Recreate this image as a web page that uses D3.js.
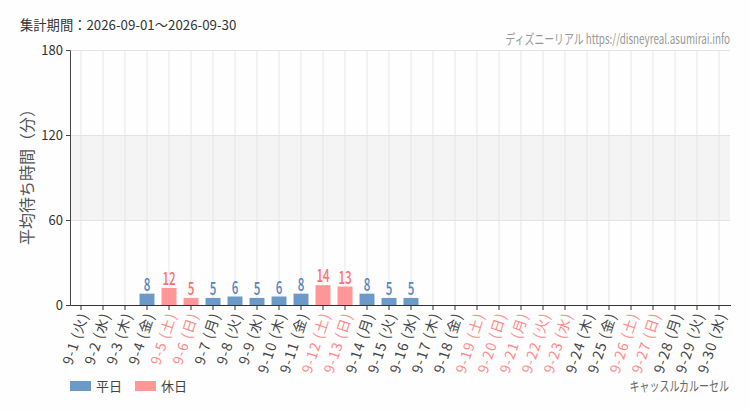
<!DOCTYPE html>
<html><head><meta charset="utf-8">
<script src="https://cdn.jsdelivr.net/npm/d3@7"></script>
<style>body{margin:0;background:#fdfefd;}svg{display:block;}</style>
</head><body><svg id="c" width="750" height="410"></svg>
<script>
const days = d3.range(1, 31).map(d => "9-" + d);
const weekdays = ["火","水","木","金","土","日","月","火","水","木","金","土","日","月","火","水","木","金","土","日","月","火","水","木","金","土","日","月","火","水"];
const holidays = [5,6,12,13,19,20,21,22,23,26,27];
const waits = [null,null,null,8,12,5,5,6,5,6,8,14,13,8,5,5,null,null,null,null,null,null,null,null,null,null,null,null,null,null];
const yTicks = [0,60,120,180];
const title = "集計期間：2026-09-01～2026-09-30";
const site = "ディズニーリアル https://disneyreal.asumirai.info";
const attraction = "キャッスルカルーセル";

const svg = d3.select("#c");
const font = "'Noto Sans CJK JP','Noto Sans',sans-serif";
const blue = "#6c9ac8", pink = "#ff9797";
const blueT = "#4f86c0", pinkT = "#ff6e6e";

const x = d3.scaleBand().domain(days).range([70, 730]).paddingInner(0.32).paddingOuter(0.16);
const y = d3.scaleLinear().domain([0, 180]).range([305, 50]);
const isHol = i => holidays.includes(i + 1);
const cx = d => x(d) + x.bandwidth() / 2;

// band
svg.append("rect").attr("x", 70).attr("width", 660).attr("y", y(120)).attr("height", y(60) - y(120)).attr("fill", "#f4f4f4");
// vertical grid
svg.append("g").selectAll("line").data(days).join("line")
  .attr("x1", cx).attr("x2", cx).attr("y1", y(180)).attr("y2", y(0))
  .attr("stroke", "#e6e6e6");
// horizontal grid
svg.append("g").selectAll("line").data(yTicks.slice(1)).join("line")
  .attr("x1", 70).attr("x2", 730).attr("y1", d => y(d) + 0.5).attr("y2", d => y(d) + 0.5)
  .attr("stroke", "#e2e2e2");

// bars
const data = days.map((d, i) => ({d, i, v: waits[i]})).filter(o => o.v != null);
svg.append("g").selectAll("rect").data(data).join("rect")
  .attr("x", o => x(o.d)).attr("width", x.bandwidth())
  .attr("y", o => y(o.v)).attr("height", o => y(0) - y(o.v))
  .attr("fill", o => isHol(o.i) ? pink : blue);
svg.append("g").selectAll("text").data(data).join("text")
  .attr("transform", o => `translate(${cx(o.d)},${y(o.v) - 3}) scale(0.66,1)`)
  .attr("text-anchor", "middle").attr("font-family", font).attr("font-size", 17.5).attr("font-weight", 500)
  .attr("fill", o => isHol(o.i) ? pinkT : blueT).text(o => o.v);

// y axis
const ya = svg.append("g").attr("transform", "translate(70,0)")
  .call(d3.axisLeft(y).tickValues(yTicks).tickSize(4).tickPadding(3));
ya.select(".domain").attr("stroke", "#444");
ya.selectAll(".tick line").attr("stroke", "#444");
ya.selectAll("text").attr("font-family", font).attr("font-size", 13).attr("fill", "#333");

// x axis
const xa = svg.append("g").attr("transform", "translate(0,305)")
  .call(d3.axisBottom(x).tickSize(5).tickSizeOuter(0).tickFormat(""));
xa.select(".domain").attr("stroke", "#333").attr("d", "M70.5,0.5H731");
xa.selectAll(".tick line").attr("stroke", "#333");
svg.append("g").selectAll("text").data(days).join("text")
  .attr("transform", d => `translate(${cx(d) + 3},313) rotate(-72)`)
  .attr("text-anchor", "end").attr("dy", "0.35em")
  .attr("font-family", font).attr("font-size", 14).attr("letter-spacing", "1px")
  .attr("fill", (d, i) => isHol(i) ? "#ff8a8a" : "#444")
  .text((d, i) => d + " (" + weekdays[i] + ")");

// y title
svg.append("text").attr("transform", "translate(33,173) rotate(-90)")
  .attr("text-anchor", "middle").attr("font-family", font).attr("font-size", 16)
  .attr("fill", "#555").text("平均待ち時間（分）");

// header
svg.append("text").attr("x", 20).attr("y", 30).attr("font-family", font).attr("font-size", 13.3)
  .attr("fill", "#333").text(title);
svg.append("text").attr("transform", "translate(730,44) scale(0.73,1)").attr("text-anchor", "end")
  .attr("font-family", font).attr("font-size", 13.5).attr("fill", "#999").text(site);

// legend
const leg = [{k: "平日", c: blue, x: 70}, {k: "休日", c: pink, x: 135}];
const lg = svg.append("g").selectAll("g").data(leg).join("g");
lg.append("rect").attr("x", o => o.x).attr("y", 381).attr("width", 21).attr("height", 10).attr("fill", o => o.c);
lg.append("text").attr("x", o => o.x + 26).attr("y", 391).attr("font-family", font).attr("font-size", 13)
  .attr("fill", "#444").text(o => o.k);
svg.append("text").attr("transform", "translate(729,391) scale(0.74,1)").attr("text-anchor", "end")
  .attr("font-family", font).attr("font-size", 13.5).attr("fill", "#666").text(attraction);
</script></body></html>
